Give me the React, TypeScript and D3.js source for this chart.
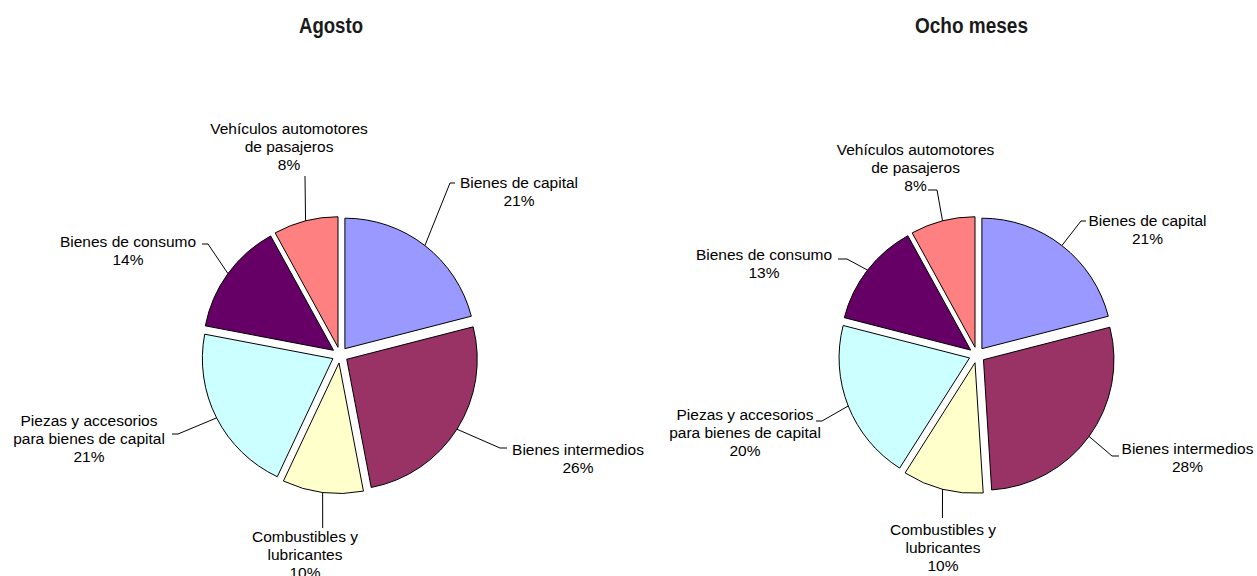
import React from "react";
import * as d3 from "d3";

// ---- data ----
const categories = [
  "Bienes de capital",
  "Bienes intermedios",
  "Combustibles y lubricantes",
  "Piezas y accesorios para bienes de capital",
  "Bienes de consumo",
  "Vehículos automotores de pasajeros",
];
const labelLines = [
  ["Bienes de capital"],
  ["Bienes intermedios"],
  ["Combustibles y", "lubricantes"],
  ["Piezas y accesorios", "para bienes de capital"],
  ["Bienes de consumo"],
  ["Vehículos automotores", "de pasajeros"],
];
const agostoValues = [21, 26, 10, 21, 14, 8];
const ochoMesesValues = [21, 28, 10, 20, 13, 8];
const titles = ["Agosto", "Ocho meses"];

// ---- styles / layout ----
const colors = ["#9999FF", "#993366", "#FFFFCC", "#CCFFFF", "#660066", "#FF8080"];
const W = 1257;
const H = 576;
const R = 130.5;
const EXPLODE = 8;
const LABEL_FONT = "'Liberation Sans', Arial, Helvetica, sans-serif";
const TITLE_FONT = "'Liberation Sans', Arial, Helvetica, sans-serif";

type LabelLayout = { t: [number, number]; pts: [number, number][] };

const leftLayout: LabelLayout[] = [
  { t: [179, -167], pts: [[110, -172], [115, -172]] },
  { t: [238, 100], pts: [[160, 93], [167, 93]] },
  { t: [-35, 187], pts: [[-17.3, 173]] },
  { t: [-251, 71], pts: [[-162, 79], [-168, 79]] },
  { t: [-212, -108], pts: [[-132, -111], [-138, -111]] },
  { t: [-51, -221], pts: [[-35, -179]] },
];
const rightLayout: LabelLayout[] = [
  { t: [170.5, -129], pts: [[104, -134], [109, -134]] },
  { t: [210.5, 99], pts: [[135, 101], [142, 101]] },
  { t: [-34, 180], pts: [[-34.6, 163]] },
  { t: [-232, 65], pts: [[-155, 66], [-161, 66]] },
  { t: [-213, -95], pts: [[-130, -96], [-139, -96]] },
  { t: [-61.5, -200], pts: [[-40, -165], [-49, -165]] },
];

const charts = [
  { title: titles[0], values: agostoValues, cx: 340, cy: 355, tx: 331, tw: 64, layout: leftLayout },
  { title: titles[1], values: ochoMesesValues, cx: 977, cy: 355, tx: 971.5, tw: 113, layout: rightLayout },
];

function Pie({ values, cx, cy, layout }: { values: number[]; cx: number; cy: number; layout: LabelLayout[] }) {
  const pie = d3.pie<number>().sort(null).value((d) => d).startAngle(0).endAngle(2 * Math.PI);
  const arcs = pie(values);
  const arc = d3.arc<d3.PieArcDatum<number>>().innerRadius(0).outerRadius(R);
  const total = d3.sum(values);
  const fmt = d3.format(".0%");
  return (
    <g transform={`translate(${cx},${cy})`}>
      {arcs.map((a, i) => {
        const mid = (a.startAngle + a.endAngle) / 2;
        const ox = EXPLODE * Math.sin(mid);
        const oy = -EXPLODE * Math.cos(mid);
        return (
          <path
            key={i}
            d={arc(a) || ""}
            transform={`translate(${ox},${oy})`}
            fill={colors[i]}
            stroke="#000"
            strokeWidth={1}
            strokeLinejoin="round"
          />
        );
      })}
      {arcs.map((a, i) => {
        const mid = (a.startAngle + a.endAngle) / 2;
        const px = (EXPLODE + R) * Math.sin(mid);
        const py = -(EXPLODE + R) * Math.cos(mid);
        const L = layout[i];
        const line = d3.line()([[px, py], ...L.pts]);
        const lines = [...labelLines[i], fmt(values[i] / total)];
        return (
          <g key={"l" + i}>
            <path d={line || ""} fill="none" stroke="#000" strokeWidth={1} />
            <text
              x={L.t[0]}
              y={L.t[1]}
              textAnchor="middle"
              fontFamily={LABEL_FONT}
              fontSize={15.5}
              fill="#000"
            >
              {lines.map((s, k) => (
                <tspan key={k} x={L.t[0]} y={L.t[1] + k * 18}>
                  {s}
                </tspan>
              ))}
            </text>
          </g>
        );
      })}
    </g>
  );
}

export default function App() {
  return (
    <svg
      width={W}
      height={H}
      style={{ position: "absolute", left: 0, top: 0, background: "#fff" }}
    >
      <rect width={W} height={H} fill="#fff" />
      {charts.map((c, i) => (
        <g key={i}>
          <text
            x={c.tx - c.tw / 2}
            y={33}
            textLength={c.tw}
            lengthAdjust="spacingAndGlyphs"
            fontFamily={TITLE_FONT}
            fontWeight="bold"
            fontSize={22}
            fill="#1a1a1a"
          >
            {c.title}
          </text>
          <Pie values={c.values} cx={c.cx} cy={c.cy} layout={c.layout} />
        </g>
      ))}
    </svg>
  );
}
